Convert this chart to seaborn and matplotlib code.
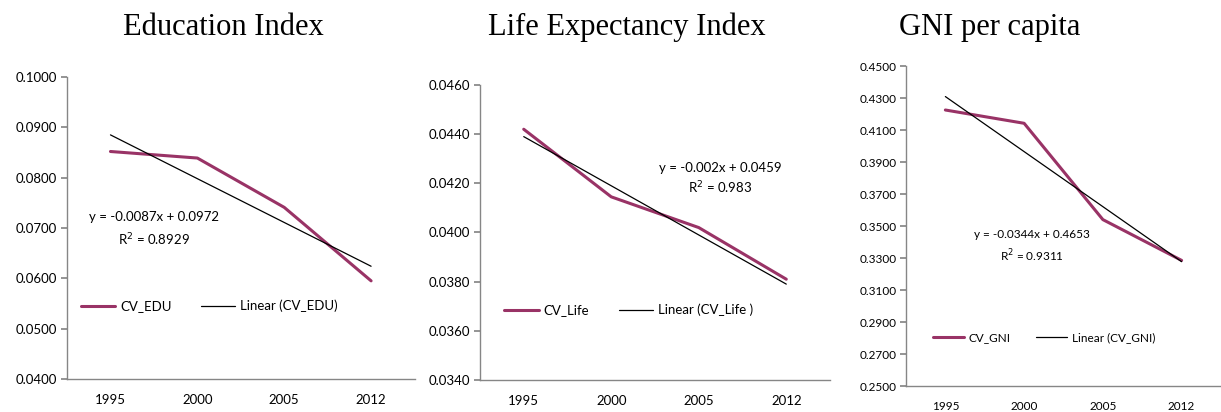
import matplotlib
matplotlib.use("Agg")
import matplotlib.pyplot as plt
import seaborn as sns
import pandas as pd
import numpy as np

years = ["1995", "2000", "2005", "2012"]

cv_edu = [0.0852, 0.0839, 0.0741, 0.0595]
cv_life = [0.0442, 0.04145, 0.0402, 0.0381]
cv_gni = [0.4225, 0.4142, 0.3540, 0.3285]

# Excel trendline coefficients (x = 1..4)
trend_edu = (-0.0087, 0.0972, 0.8929)
trend_life = (-0.002, 0.0459, 0.983)
trend_gni = (-0.0344, 0.4653, 0.9311)

titles = ["Education Index", "Life Expectancy Index", "GNI per capita"]
series_names = ["CV_EDU", "CV_Life", "CV_GNI"]
trend_names = ["Linear (CV_EDU)", "Linear (CV_Life )", "Linear (CV_GNI)"]
eq_texts = ["y = -0.0087x + 0.0972", "y = -0.002x + 0.0459", "y = -0.0344x + 0.4653"]

sns.set_theme(style="white")
plt.rcParams["font.family"] = ["Lato", "DejaVu Sans"]
plt.rcParams["text.color"] = "black"
plt.rcParams["xtick.color"] = "black"
plt.rcParams["ytick.color"] = "black"

LINE_COLOR = "#993366"
AXIS_COLOR = "#868686"

fig = plt.figure(figsize=(12.21, 4.12), dpi=100)

panels = [
    dict(rect=[0.0549, 0.0801, 0.2846, 0.7330], vals=cv_edu, trend=trend_edu,
         yticks=np.arange(0.04, 0.1001, 0.01), xlim=(-0.5, 3.5), fs=9.5,
         title_x=223 / 1221, eq=(154, 217), r2=(154, 240), leg=(0.066, 1 - 306 / 412)),
    dict(rect=[0.3931, 0.0777, 0.2867, 0.7160], vals=cv_life, trend=trend_life,
         yticks=np.arange(0.034, 0.04601, 0.002), xlim=(-0.5, 3.5), fs=9.5,
         title_x=627 / 1221, eq=(720, 168), r2=(720, 188), leg=(0.413, 1 - 310 / 412)),
    dict(rect=[0.7420, 0.0631, 0.2580, 0.7767], vals=cv_gni, trend=trend_gni,
         yticks=np.arange(0.25, 0.4501, 0.02), xlim=(-0.5, 3.25), fs=8.5,
         title_x=990 / 1221, eq=(1032, 235), r2=(1032, 256), leg=(0.764, 1 - 338 / 412)),
]

for i, p in enumerate(panels):
    ax = fig.add_axes(p["rect"])
    slope, icpt, r2 = p["trend"]
    x = np.arange(len(years))
    df = pd.DataFrame({
        "pos": np.concatenate([x, x]),
        "value": list(p["vals"]) + [slope * (k + 1) + icpt for k in x],
        "kind": [series_names[i]] * 4 + [trend_names[i]] * 4,
    })
    sns.lineplot(data=df, x="pos", y="value", hue="kind", size="kind",
                 palette=[LINE_COLOR, "black"], sizes=[2.2, 0.9],
                 sort=False, ax=ax, legend=False)

    ax.set_xlim(*p["xlim"])
    ax.set_ylim(p["yticks"][0], p["yticks"][-1])
    ax.set_yticks(p["yticks"])
    ax.set_yticklabels([f"{v:.4f}" for v in p["yticks"]], fontsize=p["fs"])
    ax.set_xticks(x)
    ax.set_xticklabels(years, fontsize=p["fs"])
    ax.set_xticks(np.arange(-0.5, 4.0, 1.0), minor=True)
    ax.tick_params(axis="x", which="major", length=0, pad=11)
    ax.tick_params(axis="x", which="minor", length=4, color=AXIS_COLOR, direction="out")
    ax.tick_params(axis="y", length=4, color=AXIS_COLOR, direction="out", left=True, pad=3)
    ax.set_xlabel("")
    ax.set_ylabel("")
    for s in ["top", "right"]:
        ax.spines[s].set_visible(False)
    for s in ["left", "bottom"]:
        ax.spines[s].set_color(AXIS_COLOR)
        ax.spines[s].set_linewidth(1)
    ax.grid(False)

    fig.text(p["title_x"], 1 - 35 / 412, titles[i], ha="center", va="baseline",
             fontsize=22, family=["Liberation Serif", "DejaVu Serif"])

    fig.text(p["eq"][0] / 1221, 1 - p["eq"][1] / 412, eq_texts[i],
             ha="center", va="center", fontsize=p["fs"])
    fig.text(p["r2"][0] / 1221, 1 - p["r2"][1] / 412, f"R$^2$ = {r2}",
             ha="center", va="center", fontsize=p["fs"])

    handles = [plt.Line2D([], [], color=LINE_COLOR, lw=2.2),
               plt.Line2D([], [], color="black", lw=0.9)]
    fig.legend(handles, [series_names[i], trend_names[i]], loc="center left",
               bbox_to_anchor=p["leg"], ncol=2, frameon=False, fontsize=p["fs"],
               handlelength=2.6, handletextpad=0.4, columnspacing=2.2,
               borderaxespad=0, borderpad=0)

fig.savefig("out.png", dpi=100)
